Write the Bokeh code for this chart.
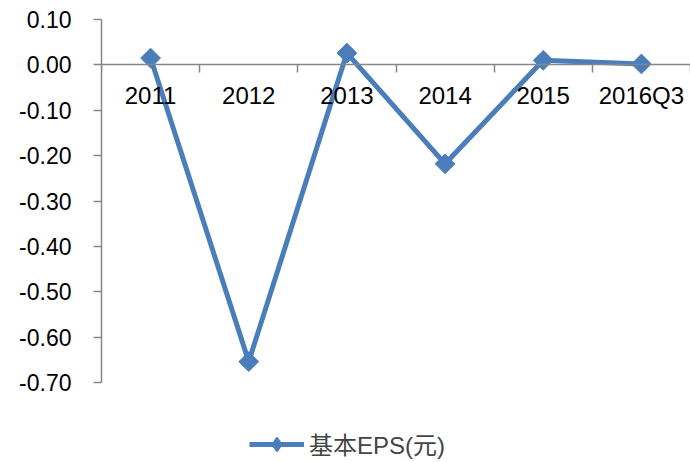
import math
from bokeh.plotting import figure
from bokeh.layouts import column
from bokeh.models import (LinearAxis, FixedTicker, NumeralTickFormatter, Range1d,
                          Legend, LegendItem, ColumnDataSource)
from bokeh.embed import file_html
from bokeh.resources import INLINE

# Basic EPS by period
categories = ["2011", "2012", "2013", "2014", "2015", "2016Q3"]
eps = [0.015, -0.654, 0.026, -0.218, 0.010, 0.002]
y_ticks = [0.10, 0.00, -0.10, -0.20, -0.30, -0.40, -0.50, -0.60, -0.70]
series_name = "基本EPS(元)"

BLUE = "#4a7ebb"
AXIS_GREY = "#868686"
LATIN = "Liberation Sans"
LINE_W = 5

n = len(categories)
centers = [i + 0.5 for i in range(n)]
source = ColumnDataSource(dict(x=centers, y=eps, cat=categories))

p = figure(width=690, height=410, output_backend="svg",
           toolbar_location=None,
           x_range=Range1d(0, n), y_range=Range1d(min(y_ticks), max(y_ticks)),
           x_axis_location=None, y_axis_location="left",
           min_border_left=101, min_border_right=0, min_border_top=19,
           min_border_bottom=28)
p.outline_line_color = None
p.xgrid.visible = False
p.ygrid.visible = False

# value axis
yax = p.yaxis[0]
yax.ticker = FixedTicker(ticks=y_ticks)
yax.formatter = NumeralTickFormatter(format="0.00")
yax.axis_line_color = AXIS_GREY
yax.axis_line_width = 1.5
yax.major_tick_line_color = AXIS_GREY
yax.major_tick_line_width = 1.5
yax.major_tick_out = 8
yax.major_tick_in = 0
yax.minor_tick_line_color = None
yax.major_label_text_font = LATIN
yax.major_label_text_font_size = "23px"
yax.major_label_text_color = "black"
yax.major_label_standoff = 22

# category axis crossing at zero, ticks between categories
xax = LinearAxis(fixed_location=0)
xax.ticker = FixedTicker(ticks=centers, minor_ticks=list(range(n + 1)))
xax.major_label_overrides = {c: lab for c, lab in zip(centers, categories)}
xax.axis_line_color = AXIS_GREY
xax.axis_line_width = 1.5
xax.major_tick_line_color = None
xax.minor_tick_line_color = AXIS_GREY
xax.minor_tick_line_width = 1.5
xax.minor_tick_out = 8
xax.minor_tick_in = 0
xax.major_label_text_font = LATIN
xax.major_label_text_font_size = "24px"
xax.major_label_text_color = "black"
xax.major_label_standoff = 9
p.add_layout(xax, "below")

p.line("x", "y", source=source, line_color=BLUE, line_width=LINE_W,
       line_join="round")
p.scatter("x", "y", source=source, marker="square", size=14, angle=math.pi / 4,
          fill_color=BLUE, line_color=BLUE)

# series key in its own strip under the chart; its renderers reuse the
# series data but the strip's y range keeps them out of view
key = figure(width=690, height=52, output_backend="svg", toolbar_location=None,
             x_range=Range1d(0, n), y_range=Range1d(1, 2),
             x_axis_location=None, y_axis_location=None,
             min_border_left=101, min_border_right=0, min_border_top=0,
             min_border_bottom=0)
key.outline_line_color = None
key.xgrid.visible = False
key.ygrid.visible = False
k_line = key.line("x", "y", source=source, line_color=BLUE, line_width=LINE_W)
k_mark = key.scatter("x", "y", source=source, marker="diamond", size=14,
                     fill_color=BLUE, line_color=BLUE, line_width=2)

legend = Legend(items=[LegendItem(label=series_name, renderers=[k_line, k_mark])],
                location=(148, 1), orientation="horizontal",
                border_line_color=None, background_fill_alpha=0,
                padding=0, margin=0, spacing=0,
                glyph_width=55, glyph_height=34, label_standoff=5,
                label_text_font=f"{LATIN}, Noto Sans CJK SC",
                label_text_font_size="24px", label_height=34)
key.add_layout(legend, "center")

open("out.html", "w").write(file_html(column(p, key, spacing=0), INLINE))
